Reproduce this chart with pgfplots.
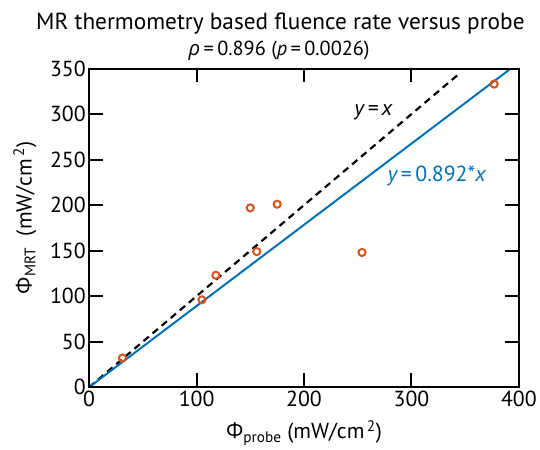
\documentclass[border=0pt]{standalone}
\usepackage{fontspec}
\setmainfont{PT Sans}
\newfontfamily\grk{Open Sans}
\usepackage{pgfplots}
\pgfplotsset{compat=1.18}
\definecolor{mblue}{rgb}{0,0.447,0.741}
\definecolor{morange}{rgb}{0.85,0.325,0.098}
\begin{document}
\begin{tikzpicture}
\path (-90pt,-63pt) rectangle (450pt,391pt);
\begin{axis}[
  scale only axis, width=434pt, height=321.7pt,
  xmin=0, xmax=400, ymin=0, ymax=350,
  xtick={0,100,200,300,400}, ytick={0,50,100,150,200,250,300,350},
  tick align=inside, major tick length=14pt,
  axis line style={line width=2pt},
  tick style={line width=2pt, black},
  tick label style={font=\fontsize{22}{22}\selectfont},
  /pgf/number format/assume math mode=true,
  clip=true,
]
\addplot[black, line width=2.2pt, dash pattern=on 7pt off 5pt] coordinates {(0,0) (345,345)};
\addplot[mblue, line width=2pt] coordinates {(0,0) (400,356.8)};
\addplot[only marks, mark=o, mark size=3.6pt, morange, mark options={line width=2pt}] coordinates {
(31,32) (105,96) (118,123) (150,197) (156,149) (175,201) (254,148) (377,333)
};
\node[font=\fontsize{22}{22}\selectfont] at (axis cs:264.5,302.5) {\itshape y\,=\,x};
\node[font=\fontsize{22}{22}\selectfont, text=mblue] at (axis cs:323.5,231.8) {\itshape y\,\upshape=\,0.892*\itshape x};
\end{axis}
% frame and inward ticks (decoration)
\draw[line width=2pt, black] (0pt,0pt) rectangle (434pt,321.7pt);
\foreach \k in {1,2,3} {
  \draw[line width=2pt, black] ({108.5pt*\k},0pt) -- ++(0pt,14pt);
  \draw[line width=2pt, black] ({108.5pt*\k},321.7pt) -- ++(0pt,-14pt);
}
\foreach \j in {1,...,6} {
  \draw[line width=2pt, black] (0pt,{45.957pt*\j}) -- ++(14pt,0pt);
  \draw[line width=2pt, black] (434pt,{45.957pt*\j}) -- ++(-14pt,0pt);
}
\node[anchor=base, font=\fontsize{22}{22}\selectfont] at (217pt,-52pt) {{\grk Φ}\textsubscript{probe} (mW/cm\textsuperscript{\,2})};
\node[rotate=90, anchor=base, font=\fontsize{22}{22}\selectfont] at (-58pt,171pt) {{\grk Φ}\textsubscript{MRT}\ \ (mW/cm\textsuperscript{\,2})};
\node[anchor=base west, font=\fontsize{23.5}{23.5}\selectfont] at (-57pt,361pt) {MR thermometry based fluence rate versus probe};
\node[anchor=base west, font=\fontsize{20.5}{20.5}\selectfont] at (97pt,335pt) {{\grk\itshape ρ}\,=\,0.896 ({\itshape p}\,=\,0.0026)};
\end{tikzpicture}
\end{document}
